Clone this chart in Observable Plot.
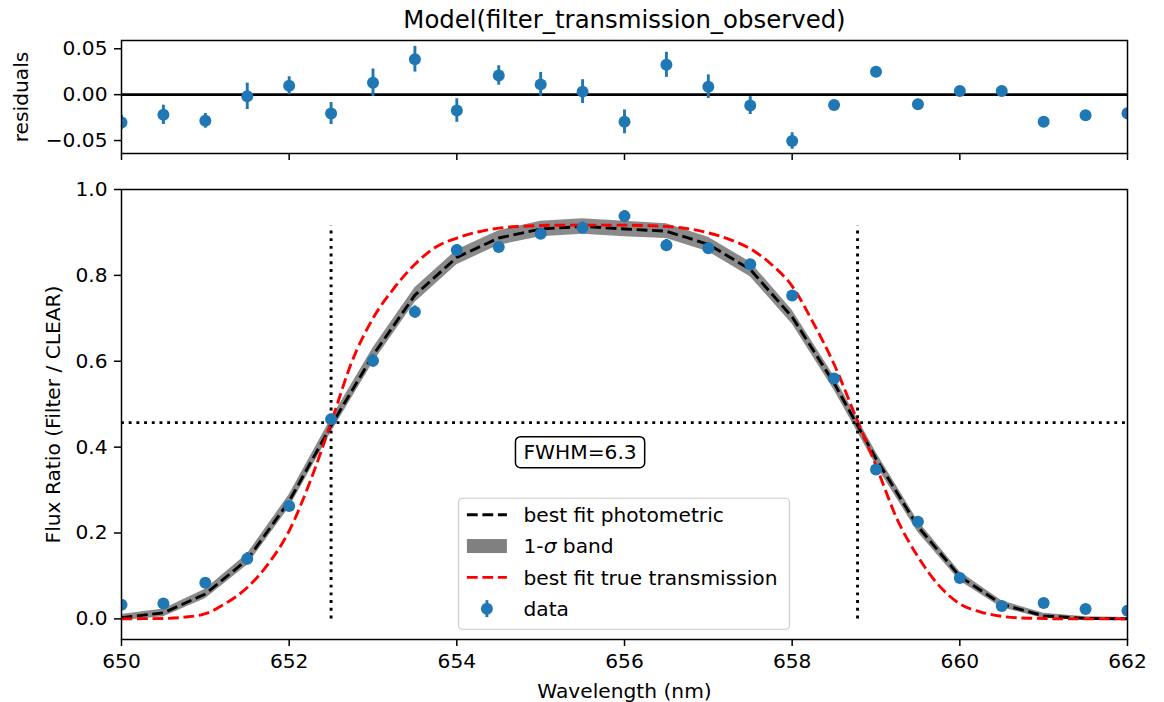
<!DOCTYPE html>
<html>
<head>
<meta charset="utf-8">
<script src="https://cdn.jsdelivr.net/npm/d3@7"></script>
<script src="https://cdn.jsdelivr.net/npm/@observablehq/plot@0.6"></script>
<style>
  html, body { margin: 0; padding: 0; background: white; }
  #chart { position: relative; width: 1164px; height: 702px; }
  #chart svg { position: absolute; left: 0; overflow: visible; }
</style>
</head>
<body>
<div id="chart"></div>
<script>
// ---------------- data ----------------
const wavelength = [650, 650.5, 651, 651.5, 652, 652.5, 653, 653.5, 654, 654.5, 655, 655.5, 656,
                    656.5, 657, 657.5, 658, 658.5, 659, 659.5, 660, 660.5, 661, 661.5, 662];
const fluxRatio = [0.033, 0.036, 0.084, 0.140, 0.263, 0.465, 0.601, 0.715, 0.859, 0.866, 0.897, 0.911, 0.938,
                   0.870, 0.863, 0.826, 0.753, 0.560, 0.348, 0.226, 0.095, 0.030, 0.037, 0.023, 0.019];
const fluxErr = [0.008, 0.0105, 0.008, 0.0144, 0.0098, 0.012, 0.015, 0.014, 0.0128, 0.0106, 0.013, 0.013, 0.013,
                 0.0137, 0.0128, 0.0097, 0.009, 0.004, 0.004, 0.004, 0.003, 0.003, 0.004, 0.004, 0.004];
const residuals = [-0.0303, -0.022, -0.0285, -0.0018, 0.0097, -0.0206, 0.013, 0.0386, -0.0173, 0.0209, 0.0112, 0.0033, -0.0296,
                   0.0325, 0.0087, -0.0119, -0.0505, -0.0112, 0.0249, -0.0105, 0.004, 0.004, -0.0296, -0.0224, -0.0202];
const bestFitPhotometric = [0.003, 0.014, 0.058, 0.138, 0.274, 0.450, 0.614, 0.754, 0.842, 0.887, 0.908, 0.914, 0.908,
                            0.903, 0.872, 0.814, 0.703, 0.549, 0.373, 0.215, 0.099, 0.034, 0.007, 0.001, 0.000];
const bandLower = [-0.004, 0.005, 0.047, 0.125, 0.259, 0.434, 0.597, 0.737, 0.825, 0.870, 0.890, 0.896, 0.890,
                   0.886, 0.855, 0.797, 0.687, 0.533, 0.358, 0.202, 0.088, 0.026, 0.001, -0.003, -0.003];
const bandUpper = [0.010, 0.023, 0.069, 0.151, 0.289, 0.466, 0.631, 0.771, 0.859, 0.904, 0.926, 0.932, 0.926,
                   0.920, 0.889, 0.831, 0.719, 0.565, 0.388, 0.228, 0.110, 0.042, 0.013, 0.005, 0.003];

const trueWavelength = [650, 650.25, 650.5, 650.75, 651, 651.25, 651.5, 651.75, 652, 652.25, 652.5, 652.75,
                        653, 653.25, 653.5, 653.75, 654, 654.25, 654.5, 654.75, 655, 655.25, 655.5, 655.75,
                        656, 656.25, 656.5, 656.75, 657, 657.25, 657.5, 657.75, 658, 658.25, 658.5, 658.75,
                        659, 659.25, 659.5, 659.75, 660, 660.25, 660.5, 660.75, 661, 661.25, 661.5, 661.75, 662];
const trueTransmission = [0.000, 0.0005, 0.001, 0.004, 0.012, 0.037, 0.073, 0.128, 0.205, 0.320, 0.457, 0.600,
                          0.700, 0.770, 0.826, 0.866, 0.887, 0.901, 0.910, 0.914, 0.916, 0.917, 0.917, 0.917,
                          0.917, 0.916, 0.914, 0.909, 0.899, 0.884, 0.862, 0.826, 0.775, 0.690, 0.593, 0.475,
                          0.357, 0.233, 0.145, 0.078, 0.035, 0.016, 0.006, 0.002, 0.001, 0.000, 0.000, 0.000, 0.000];

const fwhmEdges = [652.5, 658.78];
const halfMax = [0.457];
const peakLevel = 0.915;
const fwhmLabel = ["FWHM=6.3"];
const fwhmLabelX = 655.47, fwhmLabelY = 0.387;

const xTicks = [650, 652, 654, 656, 658, 660, 662];
const fluxTicks = [0.0, 0.2, 0.4, 0.6, 0.8, 1.0];
const residTicks = [-0.05, 0.0, 0.05];
const titleText = ["Model(filter_transmission_observed)"];
const xLabel = ["Wavelength (nm)"];
const fluxLabel = ["Flux Ratio (Filter / CLEAR)"];
const residLabel = ["residuals"];
const legendLabels = ["best fit photometric", "1-σ band", "best fit true transmission", "data"];

// ---------------- styling ----------------
const BLUE = "#1f77b4";
const FS = 20.2;
const TFS = 24.4;
const baseStyle = {background: "white", fontFamily: "'DejaVu Sans', sans-serif", fontSize: FS + "px", color: "black", overflow: "visible"};
const W = 1164, ML = 121, MR = 37;
const dash = "10.8,4.7", dot = "2.9,4.8", LW = 2.9;

const rows = wavelength.map((w, i) => ({
  w, flux: fluxRatio[i], err: fluxErr[i], resid: residuals[i],
  phot: bestFitPhotometric[i], lo: bandLower[i], hi: bandUpper[i]
}));
const trueRows = trueWavelength.map((w, i) => ({w, t: trueTransmission[i]}));

// ---------------- residual panel ----------------
const topPlot = Plot.plot({
  width: W, height: 170, marginLeft: ML, marginRight: MR, marginTop: 40, marginBottom: 17,
  style: baseStyle,
  x: {domain: [650, 662]},
  y: {domain: [-0.0641, 0.059]},
  marks: [
    Plot.ruleY([0], {stroke: "black", strokeWidth: 2.8}),
    Plot.ruleX(rows, {x: "w", y1: d => d.resid - d.err, y2: d => d.resid + d.err, stroke: BLUE, strokeWidth: LW, strokeLinecap: "butt", clip: true}),
    Plot.dot(rows, {x: "w", y: "resid", r: 6, fill: BLUE, stroke: "none", clip: true}),
    Plot.axisX({ticks: xTicks, tickSize: 7, tickFormat: () => "", strokeWidth: 1.5, label: null}),
    Plot.axisY({ticks: residTicks, tickSize: 7, tickPadding: 7, tickFormat: d3.format(".2f"), strokeWidth: 1.5, label: null}),
    Plot.frame({stroke: "black", strokeWidth: 1.5}),
    Plot.text(titleText, {frameAnchor: "top", dy: -13, lineAnchor: "bottom", textAnchor: "middle", fontSize: TFS}),
    Plot.text(residLabel, {frameAnchor: "left", dx: -100, rotate: -90, textAnchor: "middle", lineAnchor: "middle", fontSize: FS})
  ]
});

// ---------------- main panel ----------------
const mainPlot = Plot.plot({
  width: W, height: 532, marginLeft: ML, marginRight: MR, marginTop: 19, marginBottom: 63,
  style: baseStyle,
  x: {domain: [650, 662]},
  y: {domain: [-0.048, 1.0]},
  marks: [
    Plot.areaY(rows, {x: "w", y1: "lo", y2: "hi", fill: "#808080", fillOpacity: 0.92}),
    Plot.line(rows, {x: "w", y: "phot", stroke: "black", strokeWidth: LW, strokeDasharray: dash, strokeLinecap: "butt"}),
    Plot.line(trueRows, {x: "w", y: "t", stroke: "red", strokeWidth: LW, strokeDasharray: dash, strokeLinecap: "butt", curve: "monotone-x"}),
    Plot.ruleX(fwhmEdges, {y1: 0, y2: peakLevel, stroke: "black", strokeWidth: LW, strokeDasharray: dot, strokeLinecap: "butt"}),
    Plot.ruleY(halfMax, {stroke: "black", strokeWidth: LW, strokeDasharray: dot, strokeLinecap: "butt"}),
    Plot.ruleX(rows, {x: "w", y1: d => d.flux - d.err, y2: d => d.flux + d.err, stroke: BLUE, strokeWidth: LW, strokeLinecap: "butt", clip: true}),
    Plot.dot(rows, {x: "w", y: "flux", r: 6, fill: BLUE, stroke: "none", clip: true}),
    Plot.text(fwhmLabel, {x: () => fwhmLabelX, y: () => fwhmLabelY, fontSize: FS}),
    Plot.axisX({ticks: xTicks, tickSize: 7, tickPadding: 7, tickFormat: d3.format("d"), strokeWidth: 1.5, label: null}),
    Plot.axisY({ticks: fluxTicks, tickSize: 7, tickPadding: 7, tickFormat: d3.format(".1f"), strokeWidth: 1.5, label: null}),
    Plot.frame({stroke: "black", strokeWidth: 1.5}),
    Plot.text(xLabel, {frameAnchor: "bottom", dy: 58, lineAnchor: "bottom", textAnchor: "middle", fontSize: FS}),
    Plot.text(fluxLabel, {frameAnchor: "left", dx: -68, rotate: -90, textAnchor: "middle", lineAnchor: "middle", fontSize: FS})
  ]
});

const chart = document.getElementById("chart");
topPlot.style.top = "0px";
mainPlot.style.top = "170px";
chart.appendChild(topPlot);
chart.appendChild(mainPlot);

// ---------------- FWHM box ----------------
const msvg = d3.select(mainPlot);
const svgRect = mainPlot.getBoundingClientRect();
const fwhmText = msvg.selectAll("text").filter(function() { return this.textContent === fwhmLabel[0]; });
if (!fwhmText.empty()) {
  const node = fwhmText.node();
  const r = node.getBoundingClientRect();
  const padX = 8, padY = 4.5;
  const g = node.parentNode;
  msvg.insert("rect", () => g)
    .attr("x", r.left - svgRect.left - padX)
    .attr("y", r.top - svgRect.top - padY + 1)
    .attr("width", r.width + 2 * padX)
    .attr("height", r.height + 2 * padY - 2)
    .attr("rx", 5).attr("ry", 5)
    .attr("fill", "white").attr("stroke", "black").attr("stroke-width", 1.5);
}

// ---------------- legend ----------------
const frameCenter = ML + (W - ML - MR) / 2;
const legW = 331, legH = 131;
const legX = frameCenter - legW / 2;
const legY = (532 - 63) - 9.75 - legH;
const leg = msvg.append("g").attr("transform", `translate(${legX},${legY})`);
leg.append("rect").attr("x", 0).attr("y", 0).attr("width", legW).attr("height", legH)
  .attr("rx", 4).attr("fill", "white").attr("fill-opacity", 0.8)
  .attr("stroke", "#cccccc").attr("stroke-width", 1.2);
const rowY = [16.5, 47.8, 79.1, 110.4];
const hx0 = 8.4, hx1 = 48.4, hxc = 28.4, tx = 65;
leg.append("line").attr("x1", hx0).attr("x2", hx1).attr("y1", rowY[0]).attr("y2", rowY[0])
  .attr("stroke", "black").attr("stroke-width", LW).attr("stroke-dasharray", dash);
leg.append("rect").attr("x", hx0).attr("y", rowY[1] - 7).attr("width", hx1 - hx0).attr("height", 14).attr("fill", "#808080");
leg.append("line").attr("x1", hx0).attr("x2", hx1).attr("y1", rowY[2]).attr("y2", rowY[2])
  .attr("stroke", "red").attr("stroke-width", LW).attr("stroke-dasharray", dash);
leg.append("line").attr("x1", hxc).attr("x2", hxc).attr("y1", rowY[3] - 8.5).attr("y2", rowY[3] + 8.5)
  .attr("stroke", BLUE).attr("stroke-width", LW);
leg.append("circle").attr("cx", hxc).attr("cy", rowY[3]).attr("r", 6).attr("fill", BLUE);
legendLabels.forEach((lab, i) => {
  const t = leg.append("text").attr("x", tx).attr("y", rowY[i]).attr("dy", "0.36em")
    .attr("text-anchor", "start").attr("fill", "black").style("font-size", FS + "px");
  if (lab.includes("σ")) {
    const parts = lab.split("σ");
    t.append("tspan").text(parts[0]);
    t.append("tspan").attr("font-style", "italic").text("σ");
    t.append("tspan").text(parts[1]);
  } else {
    t.text(lab);
  }
});
</script>
</body>
</html>
